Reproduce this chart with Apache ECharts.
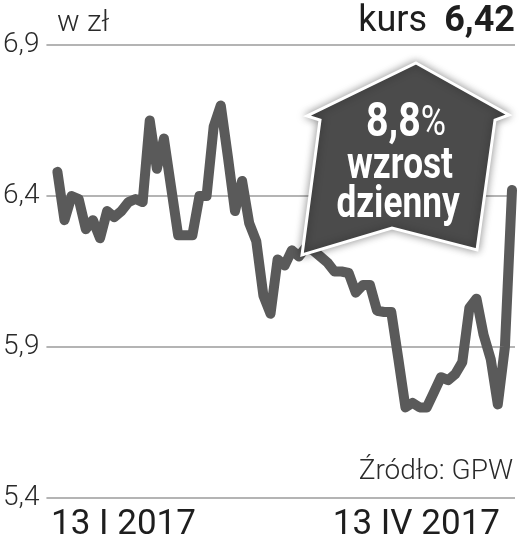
<!DOCTYPE html>
<html><head><meta charset="utf-8">
<script src="https://cdn.jsdelivr.net/npm/echarts@6/dist/echarts.min.js"></script>
<style>html,body{margin:0;padding:0;background:#fff}#c{width:524px;height:549px}</style>
</head><body><div id="c"></div>
<script>
// trading days 13 I 2017 - 13 IV 2017
const dates = [
 '2017-01-13','2017-01-16','2017-01-17','2017-01-18','2017-01-19','2017-01-20','2017-01-23','2017-01-24','2017-01-25','2017-01-26','2017-01-27','2017-01-30','2017-01-31',
 '2017-02-01','2017-02-02','2017-02-03','2017-02-06','2017-02-07','2017-02-08','2017-02-09','2017-02-10','2017-02-13','2017-02-14','2017-02-15','2017-02-16','2017-02-17','2017-02-20','2017-02-21','2017-02-22','2017-02-23','2017-02-24','2017-02-27','2017-02-28',
 '2017-03-01','2017-03-02','2017-03-03','2017-03-06','2017-03-07','2017-03-08','2017-03-09','2017-03-10','2017-03-13','2017-03-14','2017-03-15','2017-03-16','2017-03-17','2017-03-20','2017-03-21','2017-03-22','2017-03-23','2017-03-24','2017-03-27','2017-03-28','2017-03-29','2017-03-30','2017-03-31',
 '2017-04-03','2017-04-04','2017-04-05','2017-04-06','2017-04-07','2017-04-10','2017-04-11','2017-04-12','2017-04-13'
];
const prices = [
 6.48,6.32,6.40,6.39,6.29,6.32,6.26,6.35,6.33,6.35,6.38,6.39,6.38,
 6.65,6.49,6.59,6.43,6.27,6.27,6.27,6.40,6.40,6.63,6.70,6.53,6.35,6.45,6.31,6.25,6.07,6.01,6.19,6.17,
 6.22,6.20,6.23,6.22,6.20,6.18,6.15,6.15,6.145,6.08,6.105,6.105,6.02,6.016,6.016,5.86,5.70,5.715,5.70,5.70,
 5.75,5.80,5.79,5.81,5.85,6.03,6.06,5.94,5.86,5.71,5.90,6.42
];
const yTicks = [5.4, 5.9, 6.4, 6.9];
const xTickLabels = ['13 I 2017', '13 IV 2017'];
const unitLabel = 'w zł';
const lastLabel = 'kurs';
const lastValue = '6,42';
const changeValue = '8,8';
const changeText = ['wzrost', 'dzienny'];
const sourceLabel = 'Źródło: GPW';

const chart = echarts.init(document.getElementById('c'), null, {renderer: 'canvas'});
const lightFont = "Roboto, 'Liberation Sans', sans-serif";
const boldFont = "Roboto, 'Liberation Sans', sans-serif";

chart.setOption({
  animation: false,
  backgroundColor: '#ffffff',
  grid: {left: 45, right: 9, top: 45, bottom: 51, containLabel: false},
  xAxis: {
    type: 'value', min: -1.544, max: 64.42,
    axisLine: {show: false}, axisTick: {show: false}, axisLabel: {show: false}, splitLine: {show: false}
  },
  yAxis: {
    type: 'value', min: yTicks[0], max: yTicks[yTicks.length - 1], interval: 0.5,
    axisLine: {show: false}, axisTick: {show: false},
    splitLine: {show: true, lineStyle: {color: '#b4b4b4', width: 2}},
    axisLabel: {
      margin: 7, color: '#2a2a2a', fontSize: 28, fontWeight: 300, fontFamily: lightFont,
      formatter: v => v.toFixed(1).replace('.', ',')
    }
  },
  series: [{
    type: 'line',
    data: prices.map((v, i) => [i, v]),
    symbol: 'none',
    lineStyle: {color: '#5a5a5a', width: 10, join: 'round', cap: 'round'},
    z: 2
  }],
  graphic: [
    {type: 'text', left: 57, top: 8, z: 10, style: {text: unitLabel, fontSize: 30, fontWeight: 300, fontFamily: lightFont, fill: '#2a2a2a'}},
    {type: 'text', right: 97, top: 4, z: 10, style: {text: lastLabel, fontSize: 36, fontWeight: 'normal', fontFamily: lightFont, fill: '#1e1e1e'}},
    {type: 'text', right: 9, top: 4, z: 10, style: {text: lastValue, fontSize: 36, fontWeight: 'bold', fontFamily: boldFont, fill: '#1e1e1e'}},
    {type: 'text', right: 11, top: 458, z: 10, style: {text: sourceLabel, fontSize: 28, fontWeight: 300, fontFamily: lightFont, fill: '#2a2a2a'}},
    {type: 'text', left: 51, top: 508, z: 10, style: {text: xTickLabels[0], fontSize: 35, fontFamily: lightFont, fill: '#1e1e1e'}},
    {type: 'text', right: 24, top: 508, z: 10, style: {text: xTickLabels[1], fontSize: 35, fontFamily: lightFont, fill: '#1e1e1e'}},
    {
      type: 'polygon', z: 20,
      shape: {points: [[416,63],[509,115],[495,120],[477,250],[392,228],[302,255],[320,120],[307,116]]},
      style: {fill: '#4b4b4b', stroke: '#ffffff', lineWidth: 3, lineJoin: 'miter', shadowBlur: 8, shadowColor: 'rgba(0,0,0,0.4)'}
    },
    {type: 'text', x: 406, y: 148, scaleX: 0.82, z: 21, style: {
      text: '{a|' + changeValue + '}{b|%}', textAlign: 'center', textVerticalAlign: 'bottom', fill: '#ffffff',
      rich: {
        a: {fontSize: 48, fontWeight: 'bold', fontFamily: boldFont, fill: '#ffffff'},
        b: {fontSize: 42, fontWeight: 'normal', fontFamily: boldFont, fill: '#ffffff'}
      }
    }},
    {type: 'text', x: 400, y: 189, scaleX: 0.8, z: 21, style: {text: changeText[0], textAlign: 'center', textVerticalAlign: 'bottom', fontSize: 44, fontWeight: 'bold', fontFamily: boldFont, fill: '#ffffff'}},
    {type: 'text', x: 398, y: 228, scaleX: 0.8, z: 21, style: {text: changeText[1], textAlign: 'center', textVerticalAlign: 'bottom', fontSize: 44, fontWeight: 'bold', fontFamily: boldFont, fill: '#ffffff'}}
  ]
});
</script>
</body></html>
